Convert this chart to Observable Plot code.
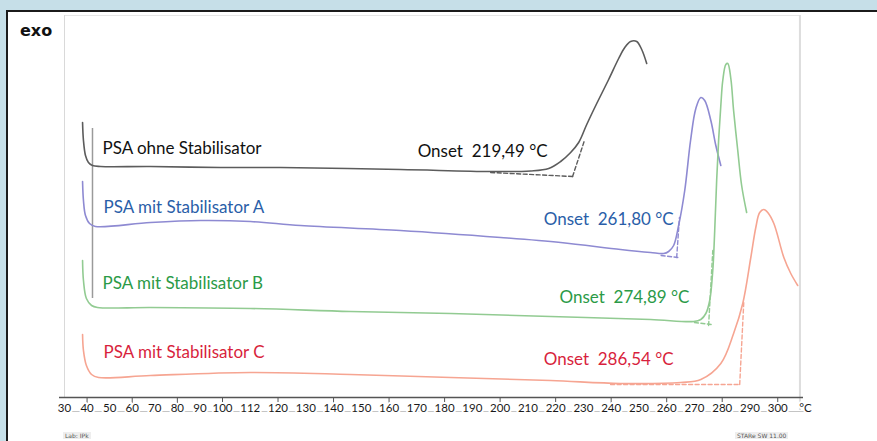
<!DOCTYPE html>
<html><head><meta charset="utf-8">
<script src="https://cdn.jsdelivr.net/npm/d3@7"></script>
<script src="https://cdn.jsdelivr.net/npm/@observablehq/plot@0.6"></script>
<style>
body{margin:0;width:877px;height:441px;overflow:hidden;background:#c6dfe8;position:relative;font-family:Lato,sans-serif}
#panel{position:absolute;left:6px;top:10px;right:0;bottom:0;background:#fff;border-top:2px solid #1b1b1b;border-left:2px solid #1b1b1b}
#exo{position:absolute;left:20px;top:21px;font:bold 16px "DejaVu Sans",sans-serif;color:#111}
#chart{position:absolute;left:0;top:0}
.foot{position:absolute;top:432px;font:6px "DejaVu Sans",sans-serif;color:#555;background:#eee;padding:0 2px}
</style></head><body>
<div id="panel"></div><div id="exo">exo</div><div id="chart"></div>
<span class="foot" style="left:63px">Lab: IPk</span>
<span class="foot" style="left:735px">STARe SW 11.00</span>
<script>
// ---- data (temperature °C, heat flow arbitrary units) ----
const grayT  = [38.0,38.4,39.3,40.6,42.4,46.0,68.1,99.1,120.9,164.1,196.6,211.0,217.5,221.8,225.4,228.3,231.2,234.8,239.1,242.7,244.9,247.0,249.2,251.0,252.8];
const grayHF = [27.5,25.7,24.2,23.5,23.2,23.1,23.1,23.0,23.0,22.8,22.6,22.65,22.9,23.6,24.5,25.5,27.3,29.4,31.8,33.9,35.0,35.6,35.6,34.8,33.4];
const blueT  = [38.0,38.4,39.3,41.1,43.7,68.1,90.3,110.1,128.1,164.1,200.2,221.8,243.4,254.2,258.9,260.7,262.5,264.3,266.5,268.6,270.5,272.3,273.7,275.9,277.7,279.5];
const blueHF = [21.6,19.7,18.2,17.4,17.1,17.5,17.7,17.6,17.2,16.7,16.0,15.5,14.8,14.5,14.4,14.6,15.2,17.2,20.7,25.7,28.9,30.0,29.7,27.7,25.2,23.2];
const greenT  = [38.0,38.4,39.7,42.0,44.6,68.1,110.1,146.1,182.2,218.2,254.2,269.7,272.3,274.1,275.5,276.6,277.3,278.0,278.7,279.5,280.2,281.3,282.0,283.1,284.1,285.6,287.0,288.8];
const greenHF = [13.7,11.7,9.9,9.2,9.0,9.0,8.9,8.6,8.4,8.1,7.8,7.6,7.8,8.4,9.7,12.7,16.7,21.7,25.7,29.2,31.7,33.3,33.4,31.9,28.7,24.7,21.2,18.5];
const redT  = [38.0,38.4,39.7,42.0,45.1,68.1,110.1,146.1,182.2,218.2,243.4,265.0,272.3,279.5,284.1,287.4,290.3,292.1,293.5,295.0,296.4,298.6,302.2,304.7,307.2];
const redHF = [6.3,4.7,3.2,2.3,2.0,2.2,2.5,2.3,2.0,1.7,1.4,1.5,1.8,3.4,6.4,9.4,14.0,17.0,18.5,18.8,18.5,17.4,14.0,12.4,11.2];

// onset constructions (dashed): [T, HF] pairs
const grayOnset  = [[[196.6,22.5],[226.1,22.1]], [[226.1,22.1],[230.5,25.8]]];
const blueOnset  = [[[258.0,14.2],[264.0,14.0]], [[263.6,14.0],[264.6,18.0]]];
const greenOnset = [[[270.0,7.5],[276.0,7.3]],   [[275.1,7.2],[276.6,14.7]]];
const redOnset   = [[[239.8,1.3],[286.5,1.3]],   [[286.3,1.3],[287.8,9.7]]];

const seriesNames = ["PSA ohne Stabilisator","PSA mit Stabilisator A","PSA mit Stabilisator B","PSA mit Stabilisator C"];
const onsetTexts  = ["Onset\u00a0 219,49 °C","Onset\u00a0 261,80 °C","Onset\u00a0 274,89 °C","Onset\u00a0 286,54 °C"];
const nameAt  = [[46.8,24.9],[47.3,19.0],[46.8,11.4],[47.3,4.5]];
const onsetAt = [[170.3,24.6],[215.7,17.8],[221.4,10.0],[215.7,3.8]];

const axisTickTemps  = [40,60,80,100,120,140,160,180,200,220,240,260,280,300];
const axisLabelTemps = [30,40,50,60,70,80,90,100,110,120,130,140,150,160,170,180,190,200,210,220,230,240,250,260,270,280,290,300,310];
const axisLabels     = ["30","40","50","60","70","80","90","100","112","120","130","140","150","160","170","180","190","200","210","220","230","240","250","260","270","280","290","300","°C"];

const guideTemp = 42.4, guideHF = [9.9, 26.9];

// ---- styles ----
const lineColors = ["#5c5c5c","#8e8ad2","#92cb92","#f6a592"];
const textColors = ["#111111","#2a5ea8","#2b9a47","#d81f3d"];

const series = [[grayT,grayHF],[blueT,blueHF],[greenT,greenHF],[redT,redHF]]
  .map(([T,H],k)=>T.map((t,i)=>({t,h:H[i],k})));
const onsets = [grayOnset,blueOnset,greenOnset,redOnset];

const marks = [
  Plot.ruleY([38.2],{x1:30,x2:308,stroke:"#e6e6e6"}),
  Plot.ruleX([30],{stroke:"#d9d9d9"}),
  Plot.ruleX([308],{stroke:"#dddddd",strokeWidth:2,insetBottom:-13}),
  Plot.ruleX([guideTemp],{y1:guideHF[0],y2:guideHF[1],stroke:"#9a9a9a",strokeWidth:1.5}),
];
series.forEach((s,k)=>{
  marks.push(Plot.line(s,{x:"t",y:"h",stroke:lineColors[k],strokeWidth:1.6,curve:"catmull-rom"}));
  onsets[k].forEach(seg=>marks.push(Plot.line(seg,{x:d=>d[0],y:d=>d[1],stroke:lineColors[k],strokeWidth:1.4,strokeDasharray:"4,2.5"})));
  marks.push(Plot.text([seriesNames[k]],{x:nameAt[k][0],y:nameAt[k][1],text:d=>d,textAnchor:"start",fill:textColors[k],fontSize:17,fontFamily:"Lato"}));
  marks.push(Plot.text([onsetTexts[k]],{x:onsetAt[k][0],y:onsetAt[k][1],text:d=>d,textAnchor:"start",fill:textColors[k],fontSize:17,fontFamily:"Lato"}));
});
marks.push(
  Plot.ruleY([-1.4],{x1:30,x2:310,stroke:"#c4c4c4",strokeWidth:1}),
  Plot.ruleY([0],{stroke:"#555",strokeWidth:1.6}),
  Plot.axisX({ticks:axisTickTemps,tickSize:6,tickFormat:()=>"",label:null,stroke:"#555"}),
  Plot.text(axisLabelTemps,{x:d=>d,frameAnchor:"bottom",dy:14.5,text:(d,i)=>axisLabels[i],fill:"#1a1a1a",stroke:"white",strokeWidth:4,fontSize:11.5,fontFamily:"Lato"})
);

const chart = Plot.plot({
  width:877,height:441,marginTop:15,marginBottom:44,marginLeft:59,marginRight:74,
  style:{background:"transparent",overflow:"visible"},
  x:{type:"linear",domain:[30,100,310],range:[64,222,805],axis:null},
  y:{domain:[0,38.2],axis:null},
  marks
});
document.getElementById("chart").appendChild(chart);
</script></body></html>
